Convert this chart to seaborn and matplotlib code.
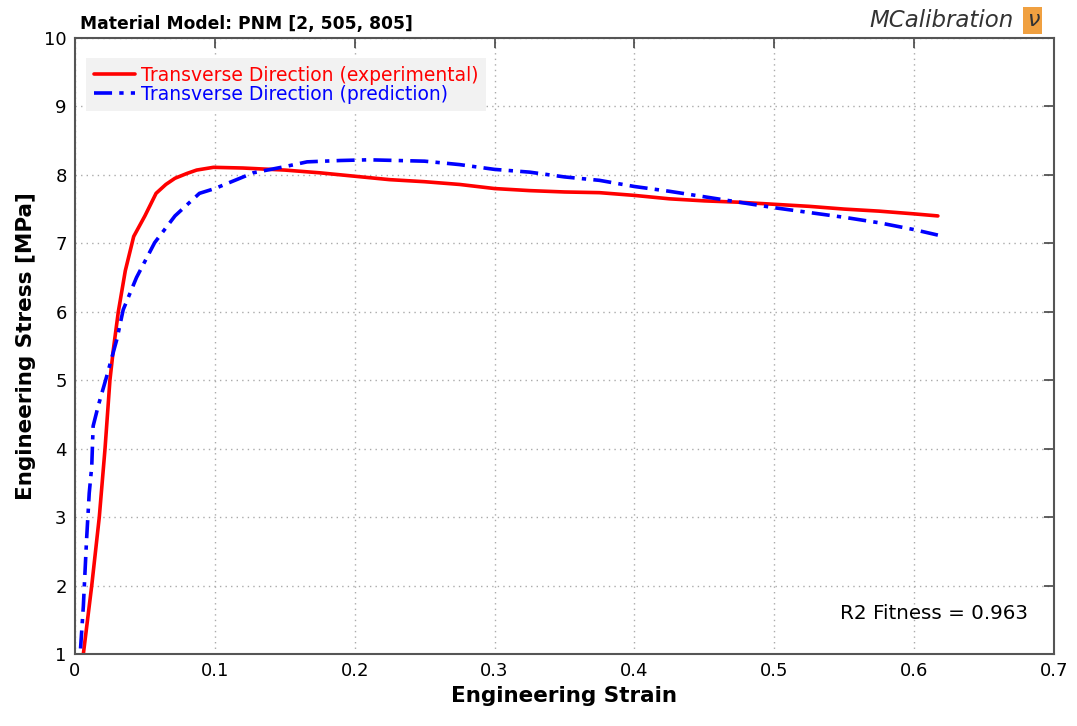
import matplotlib
matplotlib.use("Agg")
import matplotlib.pyplot as plt
import pandas as pd
import seaborn as sns

# experimental curve (strain, stress)
exp_strain = [0.006, 0.012, 0.0174, 0.0215, 0.025, 0.0274, 0.031, 0.036, 0.042, 0.05,
              0.058, 0.065, 0.0715, 0.08, 0.087, 0.099, 0.12, 0.15, 0.175, 0.2,
              0.225, 0.25, 0.275, 0.3, 0.325, 0.35, 0.375, 0.4, 0.425, 0.45,
              0.475, 0.5, 0.525, 0.55, 0.575, 0.6, 0.617]
exp_stress = [1.0, 2.0, 3.0, 4.0, 5.0, 5.44, 6.0, 6.6, 7.1, 7.4,
              7.73, 7.86, 7.95, 8.02, 8.07, 8.11, 8.1, 8.07, 8.03, 7.98,
              7.93, 7.9, 7.86, 7.8, 7.77, 7.75, 7.74, 7.7, 7.65, 7.62,
              7.6, 7.57, 7.54, 7.5, 7.47, 7.43, 7.4]

# model prediction
pred_strain = [0.004, 0.006, 0.0083, 0.0102, 0.012, 0.013, 0.0167, 0.0226, 0.03, 0.0345,
               0.044, 0.057, 0.0715, 0.089, 0.1, 0.1275, 0.15, 0.166, 0.19, 0.21,
               0.23, 0.25, 0.275, 0.3, 0.325, 0.35, 0.375, 0.4, 0.425, 0.45,
               0.475, 0.5, 0.525, 0.55, 0.575, 0.6, 0.617]
pred_stress = [1.08, 1.7, 2.67, 3.35, 3.74, 4.33, 4.63, 5.05, 5.6, 6.03,
               6.5, 7.01, 7.4, 7.73, 7.8, 8.03, 8.12, 8.19, 8.21, 8.22,
               8.21, 8.2, 8.15, 8.08, 8.04, 7.97, 7.92, 7.83, 7.76, 7.68,
               7.6, 7.52, 7.45, 7.38, 7.3, 7.2, 7.12]

exp_label = "Transverse Direction (experimental)"
pred_label = "Transverse Direction (prediction)"
x_ticks = [0, 0.1, 0.2, 0.3, 0.4, 0.5, 0.6, 0.7]
x_ticklabels = ["0", "0.1", "0.2", "0.3", "0.4", "0.5", "0.6", "0.7"]
y_ticks = [1, 2, 3, 4, 5, 6, 7, 8, 9, 10]

sns.set_style("white")
plt.rcParams["font.family"] = ["DejaVu Sans"]
plt.rcParams["text.color"] = "black"
plt.rcParams["axes.labelcolor"] = "black"
plt.rcParams["xtick.color"] = "black"
plt.rcParams["ytick.color"] = "black"

fig = plt.figure(figsize=(10.77, 7.26), dpi=100)
ax = fig.add_axes([0.0696, 0.0992, 0.909, 0.8485])

exp_df = pd.DataFrame({"strain": exp_strain, "stress": exp_stress})
pred_df = pd.DataFrame({"strain": pred_strain, "stress": pred_stress})

sns.lineplot(data=exp_df, x="strain", y="stress", sort=False, color="#ff0000",
             lw=2.6, label=exp_label, ax=ax)
sns.lineplot(data=pred_df, x="strain", y="stress", sort=False, color="#0000ff",
             lw=2.6, label=pred_label, ax=ax)
ax.lines[1].set_linestyle((0, (5, 2, 1.2, 2)))

ax.set_xlim(0, 0.7)
ax.set_ylim(1, 10)
ax.set_xticks(x_ticks)
ax.set_xticklabels(x_ticklabels)
ax.set_yticks(y_ticks)
ax.tick_params(direction="in", length=7, width=1.2, color="#444444", labelsize=13,
               labelcolor="black", top=True, right=True, pad=6)
ax.grid(True, linestyle=(0, (1, 3)), color="#aaaaaa", lw=1.0)
for s in ax.spines.values():
    s.set_color("#555555")
    s.set_linewidth(1.5)

ax.set_xlabel("Engineering Strain", fontsize=15.5, fontweight="bold", labelpad=4)
ax.set_ylabel("Engineering Stress [MPa]", fontsize=15.5, fontweight="bold", labelpad=6)

leg = ax.legend(loc="upper left", bbox_to_anchor=(0.0, 0.985), frameon=True,
                fontsize=13.5, handlelength=2.2, handletextpad=0.3,
                labelspacing=0.0, borderpad=0.4, borderaxespad=0.6)
leg.get_frame().set_facecolor("#f2f2f2")
leg.get_frame().set_edgecolor("none")
leg.get_frame().set_alpha(1)
leg.get_frame().set_boxstyle("square", pad=0.0)
for t, c in zip(leg.get_texts(), ["#ff0000", "#0000ff"]):
    t.set_color(c)

fig.text(0.074, 0.955, "Material Model: PNM [2, 505, 805]", fontsize=12.3,
         fontweight="bold", ha="left", va="bottom")
fig.text(0.941, 0.972, "MCalibration", fontsize=16.5, style="italic",
         color="#333333", ha="right", va="center")
fig.text(0.959, 0.972, "ν", fontsize=16, style="italic", color="#333333",
         ha="center", va="center",
         bbox=dict(boxstyle="square,pad=0.15", fc="#f0a040", ec="none"))

ax.text(0.974, 0.065, "R2 Fitness = 0.963", transform=ax.transAxes,
        fontsize=14.3, ha="right", va="center")

fig.savefig("out.png", dpi=100)
